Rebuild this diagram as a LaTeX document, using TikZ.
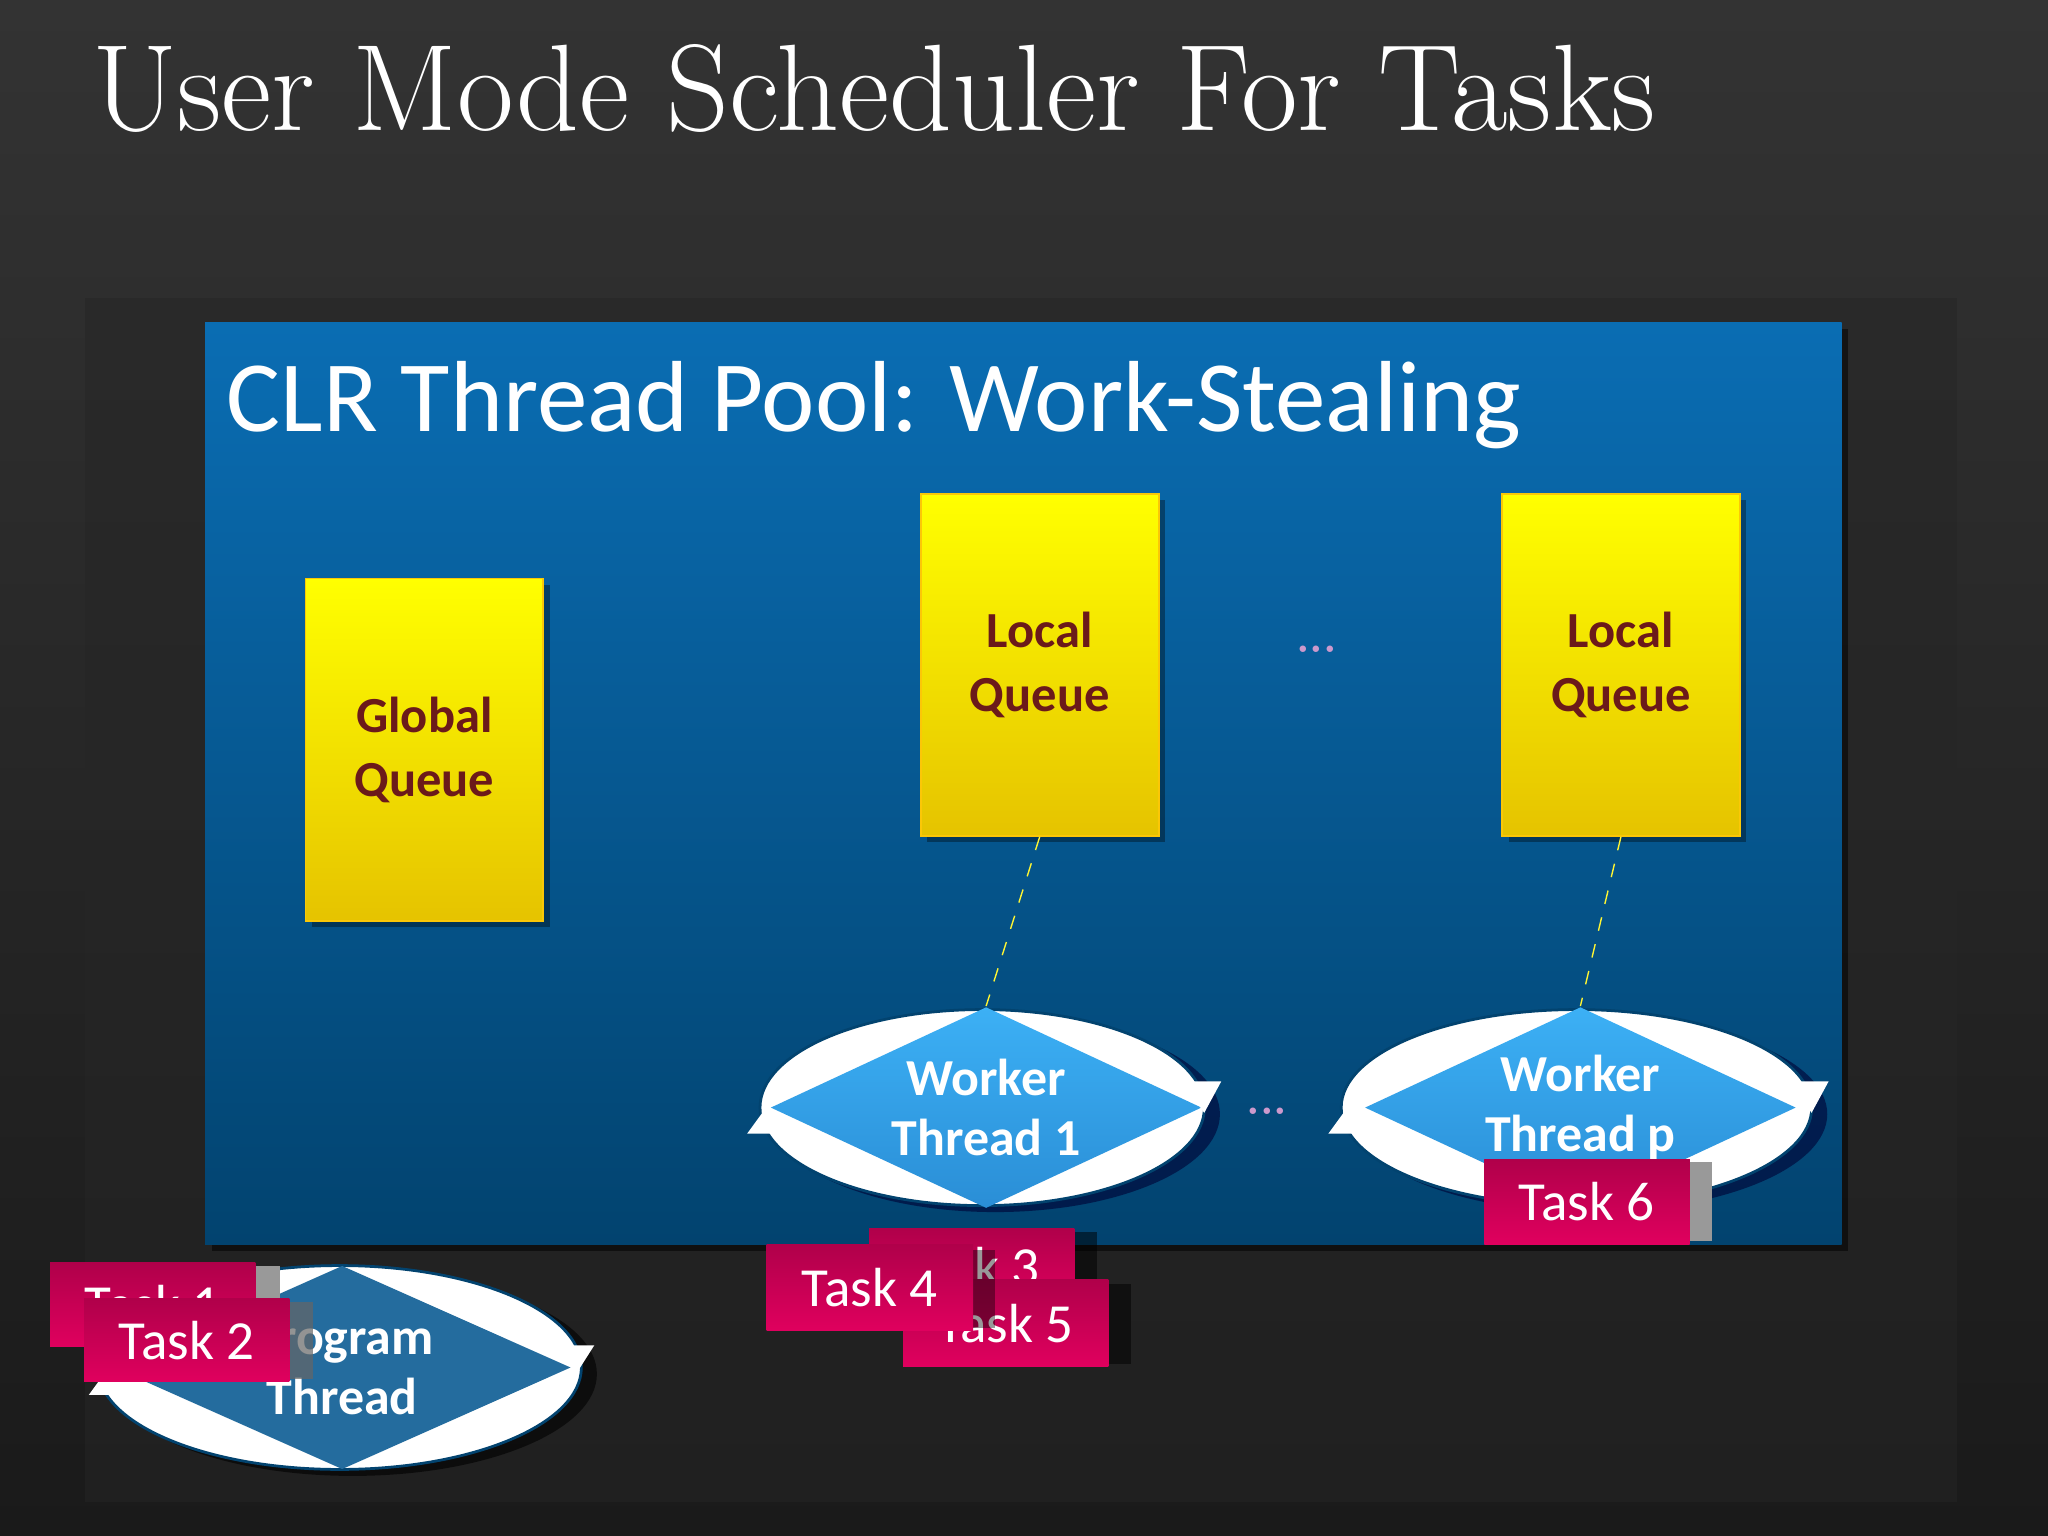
\documentclass[tikz,border=0pt]{standalone}
\usepackage{fontspec}
\newfontfamily\carl{Carlito}
\usetikzlibrary{shapes.geometric}
\definecolor{bgtop}{HTML}{333333}
\definecolor{bgbot}{HTML}{1A1A1A}
\definecolor{bluetop}{HTML}{0A6DB3}
\definecolor{bluebot}{HTML}{02436F}
\definecolor{qtext}{HTML}{6B1A1A}
\definecolor{magtop}{HTML}{B0004A}
\definecolor{magbot}{HTML}{E0005E}
\definecolor{wtop}{HTML}{3CB0F5}
\definecolor{wbot}{HTML}{2A8ED6}
\definecolor{ptop}{HTML}{246C9E}
\tikzset{
  queuebox/.style={draw=yellow!60!orange, top color=yellow, bottom color=orange!30!yellow!90!black, minimum width=1.82cm, minimum height=2.62cm, align=center, font=\carl\bfseries\fontsize{11pt}{14pt}\selectfont, text=qtext, inner sep=0pt},
  taskbox/.style={fill=magbot, top color=magtop, bottom color=magbot, minimum width=1.57cm, minimum height=0.64cm, font=\carl\fontsize{12pt}{12pt}\selectfont, text=white, inner sep=0pt},
  thread/.style={diamond, aspect=2.15, inner sep=0pt, draw=none, align=center, font=\carl\bfseries\fontsize{11.3pt}{13pt}\selectfont, text=white},
  ring/.style={ellipse, fill=white, draw=bluebot, line width=0.6pt},
  dots/.style={text=violet!40!white, font=\bfseries\fontsize{9pt}{9pt}\selectfont},
  link/.style={draw=yellow!80!white, dashed, line width=0.3pt}
}
\begin{document}
\begin{tikzpicture}[x=0.01cm,y=-0.01cm]
\useasboundingbox (0,0) rectangle (1568,1176);
\shade[top color=bgtop, bottom color=bgbot] (0,0) rectangle (1568,1176);
\fill[black!85, opacity=0.5] (65,228) rectangle (1498,1150);
\node[anchor=base west, text=white, font=\fontsize{26.8pt}{30pt}\selectfont, inner sep=0pt] (title) at (70,100) {User Mode Scheduler For Tasks};
% blue panel
\fill[black, opacity=0.5] (162,252) rectangle (1415,958);
\shade[top color=bluetop, bottom color=bluebot] (157,247) rectangle (1410,953);
\node[anchor=base west, text=white, font=\carl\fontsize{22pt}{26pt}\selectfont, inner sep=0pt] (pool) at (173,330) {CLR Thread Pool: Work-Stealing};
% queues
\fill[black,opacity=0.35] (239,448) rectangle (421,710);
\node[queuebox] (gq) at (325,574) {Global\\Queue};
\fill[black,opacity=0.35] (710,383) rectangle (892,645);
\node[queuebox] (lq1) at (796,509) {Local\\Queue};
\fill[black,opacity=0.35] (1155,383) rectangle (1337,645);
\node[queuebox] (lqp) at (1241,509) {Local\\Queue};
\node[dots] (d1) at (1008,497) {...};
% worker 1
\fill[black!80!blue, opacity=0.6] (762,853) ellipse (172 and 75);
\node[ring, minimum width=3.4cm, minimum height=1.5cm] (r1) at (752,848) {};
\node[thread, top color=wtop, bottom color=wbot, minimum width=3.3cm, minimum height=1.54cm] (w1) at (755,848) {Worker\\Thread 1};
\fill[white] (905,828) -- (935,828) -- (922,852) -- cycle;
\fill[white] (572,868) -- (600,868) -- (588,846) -- cycle;
% worker p
\fill[black!80!blue, opacity=0.6] (1217,853) ellipse (182 and 75);
\node[ring, minimum width=3.6cm, minimum height=1.5cm] (rp) at (1207,848) {};
\node[thread, top color=wtop, bottom color=wbot, minimum width=3.3cm, minimum height=1.54cm] (wp) at (1210,848) {Worker\\Thread p};
\fill[white] (1370,828) -- (1400,828) -- (1387,852) -- cycle;
\fill[white] (1017,868) -- (1045,868) -- (1033,846) -- cycle;
\node[dots] (d2) at (970,851) {...};
\draw[link] (lq1.south) -- (w1.north);
\draw[link] (lqp.south) -- (wp.north);
% task 6
\fill[black!40] (1293,890) rectangle (1311,950);
\node[taskbox, minimum height=0.65cm] (t6) at (1215,920) {Task 6};
% program thread
\fill[black, opacity=0.6] (270,1052) ellipse (187 and 78);
\node[ring, minimum width=3.7cm, minimum height=1.56cm] (rprog) at (260,1047) {};
\node[thread, fill=ptop, minimum width=3.5cm, minimum height=1.56cm] (prog) at (262,1047) {Program\\Thread};
\fill[white] (425,1030) -- (455,1030) -- (441,1052) -- cycle;
\fill[white] (68,1068) -- (96,1068) -- (84,1046) -- cycle;
% tasks
\fill[black!40] (196,969) rectangle (214,1029);
\node[taskbox] (t1) at (117,999) {Task 1};
\fill[black!60, opacity=0.7] (222,997) rectangle (240,1056);
\node[taskbox] (t2) at (143,1026) {Task 2};
\fill[black, opacity=0.5] (823,943) rectangle (840,998);
\node[taskbox, minimum height=0.59cm] (t3) at (744,970) {Task 3};
\fill[black, opacity=0.5] (849,983) rectangle (866,1044);
\node[taskbox, minimum height=0.66cm] (t5) at (770,1013) {Task 5};
\fill[black, opacity=0.4] (745,957) rectangle (762,1017);
\node[taskbox, minimum height=0.66cm, minimum width=1.58cm] (t4) at (666,986) {Task 4};
\end{tikzpicture}
\end{document}
